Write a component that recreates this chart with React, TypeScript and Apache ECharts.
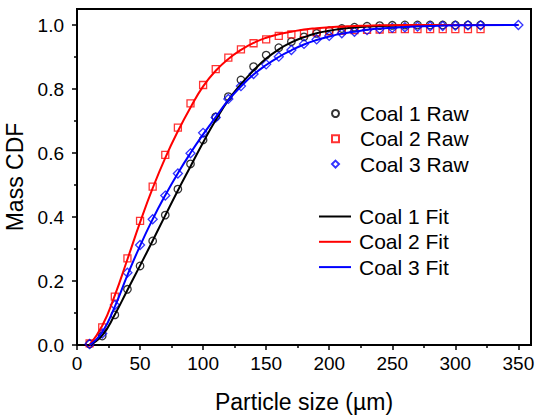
import React, { useEffect, useRef } from "react";
import * as echarts from "echarts";

const rawX12 = [10, 20, 30, 40, 50, 60, 70, 80, 90, 100, 110, 120, 130, 140, 150, 160, 170, 180, 190, 200, 210, 220, 230, 240, 250, 260, 270, 280, 290, 300, 310, 320];
const rawX3 = [...rawX12, 350];
const coal1Raw = [0.003, 0.028, 0.094, 0.174, 0.247, 0.325, 0.406, 0.487, 0.566, 0.641, 0.713, 0.776, 0.828, 0.870, 0.906, 0.929, 0.948, 0.963, 0.974, 0.982, 0.989, 0.993, 0.996, 0.998, 0.999, 1.0, 1.0, 1.0, 1.0, 1.0, 1.0, 1.0];
const coal2Raw = [0.005, 0.055, 0.151, 0.271, 0.388, 0.495, 0.594, 0.679, 0.755, 0.8125, 0.862, 0.898, 0.924, 0.943, 0.955, 0.966, 0.971, 0.974, 0.977, 0.98, 0.982, 0.984, 0.985, 0.986, 0.987, 0.987, 0.987, 0.987, 0.987, 0.987, 0.987, 0.987];
const coal3Raw = [0.003, 0.036, 0.125, 0.226, 0.3125, 0.393, 0.467, 0.536, 0.599, 0.663, 0.711, 0.769, 0.809, 0.847, 0.877, 0.901, 0.922, 0.941, 0.955, 0.966, 0.974, 0.979, 0.984, 0.988, 0.991, 0.993, 0.995, 0.996, 0.997, 0.998, 0.999, 0.999, 1.0];

const fitX = [10, 20, 30, 40, 50, 60, 70, 80, 90, 100, 110, 120, 130, 140, 150, 160, 170, 180, 190, 200, 210, 220, 230, 240, 260, 280, 300, 350];
const coal1Fit = [0.0, 0.03, 0.095, 0.172, 0.248, 0.326, 0.405, 0.483, 0.558, 0.633, 0.703, 0.765, 0.815, 0.858, 0.895, 0.924, 0.946, 0.962, 0.974, 0.982, 0.988, 0.992, 0.995, 0.997, 0.999, 1.0, 1.0, 1.0];
const coal2Fit = [0.0, 0.06, 0.155, 0.268, 0.383, 0.49, 0.585, 0.668, 0.742, 0.808, 0.857, 0.894, 0.922, 0.944, 0.96, 0.971, 0.979, 0.986, 0.99, 0.993, 0.995, 0.997, 0.998, 0.999, 1.0, 1.0, 1.0, 1.0];
const coal3Fit = [0.0, 0.04, 0.12, 0.218, 0.31, 0.393, 0.468, 0.537, 0.6, 0.658, 0.712, 0.765, 0.808, 0.845, 0.875, 0.9, 0.921, 0.939, 0.953, 0.964, 0.973, 0.979, 0.985, 0.989, 0.994, 0.997, 0.999, 1.0];

const xMajor = [0, 50, 100, 150, 200, 250, 300, 350];
const xMinor = [25, 75, 125, 175, 225, 275, 325];
const yMajor = [0, 0.2, 0.4, 0.6, 0.8, 1.0];
const yMinor = [0.1, 0.3, 0.5, 0.7, 0.9];

const rawNames = ["Coal 1 Raw", "Coal 2 Raw", "Coal 3 Raw"];
const fitNames = ["Coal 1 Fit", "Coal 2 Fit", "Coal 3 Fit"];

const FONT = "Liberation Sans, Arial, sans-serif";

const zip = (xs: number[], ys: number[]) => ys.map((y, i) => [xs[i], y]);

export default function App() {
  const ref = useRef<HTMLDivElement>(null);
  useEffect(() => {
    if (!ref.current) return;
    const chart = echarts.init(ref.current, null, { renderer: "svg" });
    const rawSeries = (name: string, xs: number[], ys: number[], color: string, symbol: string, size: number) => ({
      name,
      type: "scatter",
      data: zip(xs, ys),
      symbol,
      symbolSize: size,
      itemStyle: { color: "transparent", borderColor: color, borderWidth: 1.3 },
      z: 2,
    });
    const fitSeries = (name: string, ys: number[], color: string) => ({
      name,
      type: "line",
      data: zip(fitX, ys),
      smooth: true,
      symbol: "none",
      showSymbol: false,
      lineStyle: { color, width: 2 },
      itemStyle: { color },
      z: 3,
    });
    const legendText = (pad: number) => ({ fontFamily: FONT, fontSize: 21, color: "#000", lineHeight: 21, padding: [0, 0, 0, pad] });
    chart.setOption({
      animation: false,
      textStyle: { fontFamily: FONT },
      grid: {
        left: 77, right: 4, top: 9, bottom: 70,
        outerBoundsMode: "none", containLabel: false,
        show: true, borderColor: "#000", borderWidth: 2, backgroundColor: "transparent",
      },
      legend: [
        {
          data: rawNames,
          orient: "vertical",
          left: 326,
          top: 98,
          itemWidth: 7,
          itemHeight: 7,
          itemGap: 4.3,
          selectedMode: false,
          textStyle: legendText(16),
        },
        {
          data: fitNames.map((n) => ({ name: n, icon: "path://M0 0H32V2H0Z" })),
          orient: "vertical",
          left: 314,
          top: 201,
          itemWidth: 32,
          itemHeight: 2,
          itemGap: 4.3,
          selectedMode: false,
          textStyle: legendText(3),
        },
      ],
      xAxis: [
        {
          type: "value",
          min: 0,
          max: 360,
          position: "bottom",
          name: "Particle size (\u00b5m)",
          nameLocation: "middle",
          nameGap: 45,
          nameTextStyle: { fontFamily: FONT, fontSize: 23, color: "#000" },
          axisLine: { show: true, lineStyle: { color: "#000", width: 2 } },
          axisTick: { show: true, inside: false, length: 5, lineStyle: { color: "#000", width: 1.5 }, customValues: xMajor },
          axisLabel: { fontFamily: FONT, fontSize: 19, color: "#000", margin: 9, customValues: xMajor },
          splitLine: { show: false },
        },
        {
          type: "value",
          min: 0,
          max: 360,
          position: "bottom",
          axisLine: { show: false },
          axisTick: { show: true, inside: false, length: 3, lineStyle: { color: "#000", width: 1.5 }, customValues: xMinor },
          axisLabel: { show: false },
          splitLine: { show: false },
        },
      ],
      yAxis: [
        {
          type: "value",
          min: 0,
          max: 1.05,
          position: "left",
          name: "Mass CDF",
          nameLocation: "middle",
          nameGap: 50,
          nameTextStyle: { fontFamily: FONT, fontSize: 23, color: "#000" },
          axisLine: { show: true, lineStyle: { color: "#000", width: 2 } },
          axisTick: { show: true, inside: false, length: 5, lineStyle: { color: "#000", width: 1.5 }, customValues: yMajor },
          axisLabel: { fontFamily: FONT, fontSize: 19, color: "#000", margin: 13, customValues: yMajor, formatter: (v: number) => v.toFixed(1) },
          splitLine: { show: false },
        },
        {
          type: "value",
          min: 0,
          max: 1.05,
          position: "left",
          axisLine: { show: false },
          axisTick: { show: true, inside: false, length: 3, lineStyle: { color: "#000", width: 1.5 }, customValues: yMinor },
          axisLabel: { show: false },
          splitLine: { show: false },
        },
      ],
      series: [
        rawSeries(rawNames[0], rawX12, coal1Raw, "#000000", "circle", 7.5),
        rawSeries(rawNames[1], rawX12, coal2Raw, "#ff0000", "rect", 7),
        rawSeries(rawNames[2], rawX3, coal3Raw, "#0000ff", "diamond", 9),
        fitSeries(fitNames[0], coal1Fit, "#000000"),
        fitSeries(fitNames[1], coal2Fit, "#ff0000"),
        fitSeries(fitNames[2], coal3Fit, "#0000ff"),
      ],
    });
    return () => chart.dispose();
  }, []);
  return <div ref={ref} style={{ width: 535, height: 415, position: "absolute", left: 0, top: 0 }} />;
}
